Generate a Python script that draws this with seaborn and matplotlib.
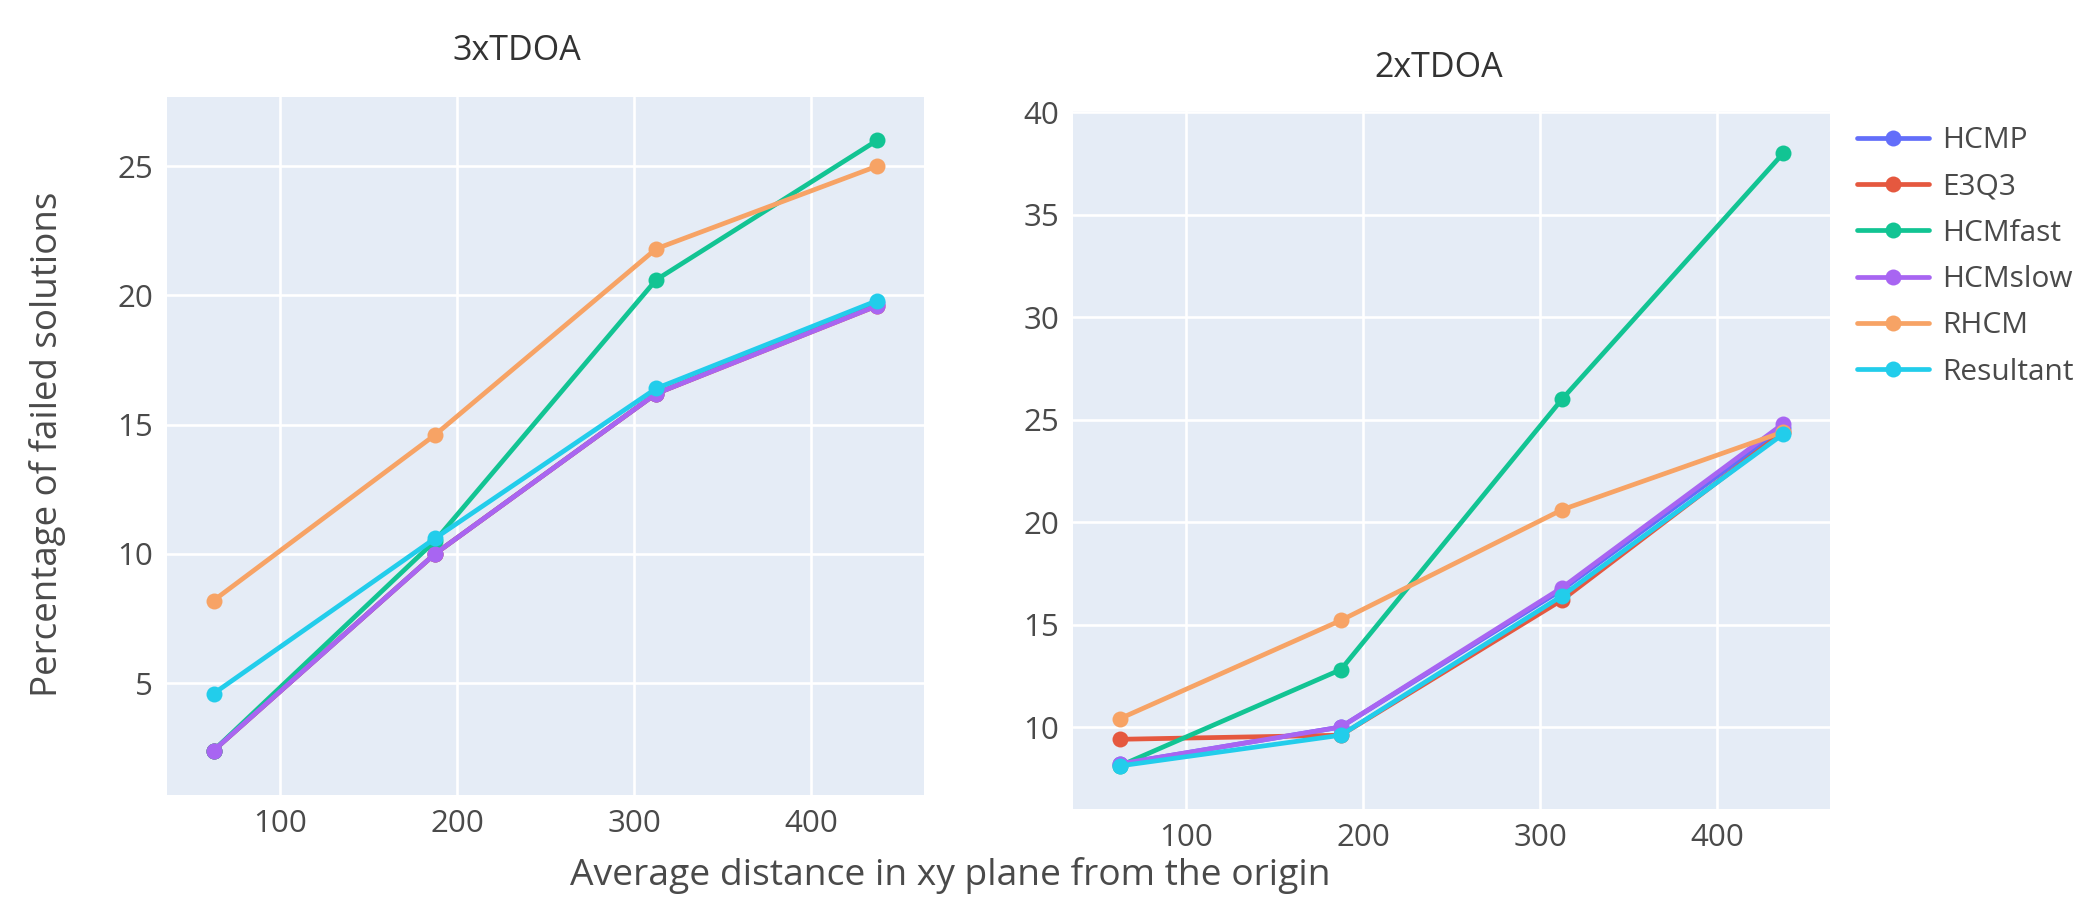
import numpy as np
import pandas as pd
import matplotlib
matplotlib.use("Agg")
import matplotlib.pyplot as plt
from matplotlib.lines import Line2D
import seaborn as sns

# ---------------- data ----------------
distances = [62.5, 187.5, 312.5, 437.5]
methods = ["HCMP", "E3Q3", "HCMfast", "HCMslow", "RHCM", "Resultant"]

tdoa3_HCMP = [2.4, 10.0, 16.2, 19.7]
tdoa3_E3Q3 = [2.4, 10.0, 16.2, 19.6]
tdoa3_HCMfast = [2.4, 10.5, 20.6, 26.0]
tdoa3_HCMslow = [2.4, 10.0, 16.2, 19.6]
tdoa3_RHCM = [8.2, 14.6, 21.8, 25.0]
tdoa3_Resultant = [4.6, 10.6, 16.4, 19.8]

tdoa2_HCMP = [8.2, 10.0, 16.7, 24.6]
tdoa2_E3Q3 = [9.4, 9.6, 16.2, 24.4]
tdoa2_HCMfast = [8.1, 12.8, 26.0, 38.0]
tdoa2_HCMslow = [8.2, 10.0, 16.8, 24.8]
tdoa2_RHCM = [10.4, 15.2, 20.6, 24.4]
tdoa2_Resultant = [8.1, 9.6, 16.4, 24.3]

x_ticks = [100, 200, 300, 400]
y_ticks_3 = [5, 10, 15, 20, 25]
y_ticks_2 = [10, 15, 20, 25, 30, 35, 40]

colors = ["#636EFA", "#E5583F", "#12C493", "#A865F2", "#F7A365", "#22CDEB"]
palette = dict(zip(methods, colors))


def long_df(series):
    rows = []
    for m, vals in zip(methods, series):
        for x, v in zip(distances, vals):
            rows.append({"dist": x, "pct": v, "method": m})
    return pd.DataFrame(rows)


df3 = long_df([tdoa3_HCMP, tdoa3_E3Q3, tdoa3_HCMfast, tdoa3_HCMslow, tdoa3_RHCM, tdoa3_Resultant])
df2 = long_df([tdoa2_HCMP, tdoa2_E3Q3, tdoa2_HCMfast, tdoa2_HCMslow, tdoa2_RHCM, tdoa2_Resultant])

# ---------------- style ----------------
sns.set_style("white")
plt.rcParams["font.family"] = ["Open Sans", "DejaVu Sans"]
TXT = "#4a4a4a"
BG = "#E5ECF6"

W, H = 2082, 898
fig = plt.figure(figsize=(W / 100, H / 100), dpi=100)
fig.patch.set_facecolor("white")


def px_axes(x0, y0, x1, y1):
    return fig.add_axes([x0 / W, 1 - y1 / H, (x1 - x0) / W, (y1 - y0) / H])


ax1 = px_axes(167, 97, 924, 795)
ax2 = px_axes(1073, 111, 1830, 809)

LW = 3.4
MS = 11.5

for ax, df, yl, yt in [(ax1, df3, (0.68, 27.67), y_ticks_3), (ax2, df2, (6.0, 40.05), y_ticks_2)]:
    sns.lineplot(data=df, x="dist", y="pct", hue="method", hue_order=methods,
                 palette=palette, marker="o", markersize=MS, markeredgewidth=0,
                 linewidth=LW, errorbar=None, legend=False, ax=ax, sort=True)
    ax.set_facecolor(BG)
    ax.set_xlim(36.2, 463.8)
    ax.set_ylim(*yl)
    ax.set_xticks(x_ticks)
    ax.set_yticks(yt)
    ax.grid(True, color="white", linewidth=1.9)
    ax.set_axisbelow(True)
    for s in ax.spines.values():
        s.set_visible(False)
    ax.tick_params(axis="both", length=0, labelsize=22.5, colors=TXT, pad=10)
    ax.set_xlabel("")
    ax.set_ylabel("")

fig.text(517 / W, 1 - 51 / H, "3xTDOA", ha="center", va="center", fontsize=24.5, color="#333333")
fig.text(1439 / W, 1 - 68 / H, "2xTDOA", ha="center", va="center", fontsize=24.5, color="#333333")
fig.text(48 / W, 1 - 444 / H, "Percentage of failed solutions", ha="center", va="center",
         rotation=90, fontsize=26.5, color=TXT)
fig.text(950 / W, 1 - 876 / H, "Average distance in xy plane from the origin", ha="center",
         va="center", fontsize=26.8, color=TXT)

handles = [Line2D([0], [0], color=palette[m], linewidth=LW, marker="o", markersize=MS,
                  markeredgewidth=0) for m in methods]
leg = fig.legend(handles, methods, loc="upper left", bbox_to_anchor=(1857 / W, 1 - 126 / H),
                 frameon=False, fontsize=21.5, handlelength=2.4, handletextpad=0.45,
                 labelspacing=0.58, borderpad=0, borderaxespad=0)
for t in leg.get_texts():
    t.set_color(TXT)

fig.savefig("out.png", dpi=100, facecolor="white")
